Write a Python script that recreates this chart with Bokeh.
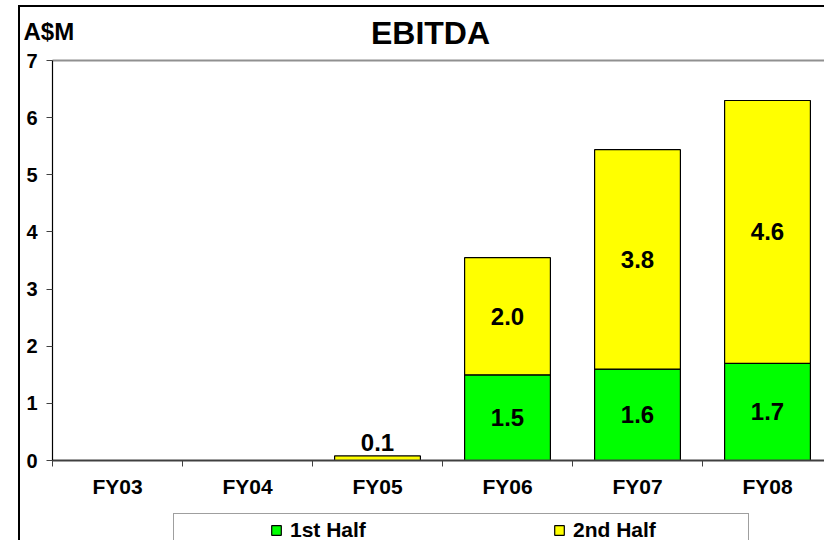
from bokeh.plotting import figure
from bokeh.layouts import column
from bokeh.models import (Range1d, FixedTicker, LinearAxis, Legend, LegendItem,
                          ColumnDataSource, Label)
from bokeh.embed import file_html
from bokeh.resources import INLINE
from bokeh.core.properties import value

categories = ["FY03", "FY04", "FY05", "FY06", "FY07", "FY08"]
first_half = [0, 0, 0, 1.5, 1.6, 1.7]
second_half = [0, 0, 0.08, 2.05, 3.84, 4.6]
y_ticks = [0, 1, 2, 3, 4, 5, 6, 7]
series_names = ["1st Half", "2nd Half"]
chart_title = "EBITDA"
unit_label = "A$M"

FONT = "Liberation Sans"
GREEN = "#00FF00"
YELLOW = "#FFFF00"

xs = list(range(len(categories)))
totals = [a + b for a, b in zip(first_half, second_half)]

src = ColumnDataSource(dict(x=xs, cat=categories, h1=first_half, h2=second_half, tot=totals))

# ---------------- main chart ----------------
p = figure(width=804, height=507, output_backend="svg", toolbar_location=None,
           x_range=Range1d(-0.5, -0.5 + 772 / 130), y_range=Range1d(0, 7),
           min_border_left=32, min_border_right=0, min_border_top=0, min_border_bottom=44,
           title_location=None)
p.margin = (-10, 0, 0, 0)

p.outline_line_color = None
p.xgrid.visible = False
p.ygrid.visible = False
p.background_fill_color = "white"
p.border_fill_alpha = 0

BAR_W = 0.66
bar_style = dict(line_color="black", line_width=1.2)
r1 = p.vbar(x="x", width=BAR_W, bottom=0, top="h1", source=src, fill_color=GREEN, **bar_style)
r2 = p.vbar(x="x", width=BAR_W, bottom="h1", top="tot", source=src, fill_color=YELLOW, **bar_style)

# value labels
in_x, in_y, in_t = [], [], []
out_x, out_y, out_t = [], [], []
for i in xs:
    a, b = first_half[i], second_half[i]
    if a > 0:
        in_x.append(i); in_y.append(a / 2); in_t.append(f"{a:.1f}")
    if b >= 0.5:
        in_x.append(i); in_y.append(a + b / 2); in_t.append(f"{b:.1f}")
    elif b > 0:
        out_x.append(i); out_y.append(a + b); out_t.append(f"{b:.1f}")

p.text(x=in_x, y=in_y, text=in_t, text_font=value(FONT), text_font_style="bold",
       text_font_size="24px", text_align="center", text_baseline="middle", text_color="black")
p.text(x=out_x, y=out_y, text=out_t, text_font=value(FONT), text_font_style="bold",
       text_font_size="24px", text_align="center", text_baseline="bottom", text_color="black",
       y_offset=-5)

# y axis
ya = p.yaxis[0]
ya.ticker = FixedTicker(ticks=y_ticks)
ya.major_label_text_font = FONT
ya.major_label_text_font_style = "bold"
ya.major_label_text_font_size = "20px"
ya.major_label_text_color = "black"
ya.major_label_standoff = 9
ya.major_tick_out = 6
ya.major_tick_in = 0
ya.major_tick_line_color = "#404040"
ya.minor_tick_line_color = None
ya.axis_line_color = "black"
ya.axis_line_width = 1.2

# x axis
xa = p.xaxis[0]
xa.ticker = FixedTicker(ticks=xs, minor_ticks=[i - 0.5 for i in range(len(categories) + 1)])
xa.major_label_overrides = {i: c for i, c in zip(xs, categories)}
xa.major_tick_line_color = None
xa.minor_tick_out = 6
xa.minor_tick_in = 0
xa.minor_tick_line_color = "#404040"
xa.axis_line_color = "#404040"
xa.axis_line_width = 2
xa.major_label_text_font = FONT
xa.major_label_text_font_style = "bold"
xa.major_label_text_font_size = "21px"
xa.major_label_text_color = "black"
xa.major_label_standoff = 8

# top frame line
top = LinearAxis(ticker=FixedTicker(ticks=[]), major_label_text_font_size="0px",
                 axis_line_color="#909090", axis_line_width=2,
                 major_tick_line_color=None, minor_tick_line_color=None)
p.add_layout(top, "above")

# header texts (placed in the top panel so they are not clipped by the frame)
unit = Label(x=-0.5, y=7, x_offset=-29, y_offset=29, text=unit_label,
             text_font=FONT, text_font_style="bold", text_font_size="24px",
             text_color="black", text_align="left", text_baseline="middle")
ttl = Label(x=2.5, y=7, x_offset=-12, y_offset=28, text=chart_title,
            text_font=FONT, text_font_style="bold", text_font_size="32px",
            text_color="black", text_align="center", text_baseline="middle")
p.add_layout(unit, "above")
p.add_layout(ttl, "above")

# ---------------- legend strip ----------------
p2 = figure(width=804, height=36, output_backend="svg", toolbar_location=None,
            x_range=Range1d(100, 101), y_range=Range1d(100, 101),
            x_axis_location=None, y_axis_location=None,
            min_border_left=0, min_border_right=0, min_border_top=0, min_border_bottom=0,
            title_location=None)
p2.outline_line_color = None
p2.xgrid.visible = False
p2.ygrid.visible = False
p2.border_fill_alpha = 0
p2.background_fill_alpha = 0

# legend proxies (same series, kept outside this strip's visible range)
g1 = p2.vbar(x="x", width=BAR_W, bottom=0, top="h1", source=src, fill_color=GREEN, **bar_style)
g2 = p2.vbar(x="x", width=BAR_W, bottom="h1", top="tot", source=src, fill_color=YELLOW, **bar_style)

legend = Legend(items=[LegendItem(label=series_names[0], renderers=[g1]),
                       LegendItem(label=series_names[1], renderers=[g2])],
                orientation="horizontal", location=(121, -7),
                padding=4, margin=0, spacing=92, label_width=171, label_standoff=8,
                glyph_width=12, glyph_height=12,
                label_text_font=FONT, label_text_font_style="bold",
                label_text_font_size="21px", label_text_color="black",
                title=" ", title_location="left", title_standoff=81,
                title_text_font_size="10px",
                border_line_color="#404040", border_line_width=1.5,
                background_fill_color="white", background_fill_alpha=1.0)
p2.add_layout(legend)

layout = column(p, p2, spacing=0)
layout.margin = (5, 0, 0, 18)
layout.styles = {"border-left": "2px solid black", "border-top": "2px solid black"}

open("out.html", "w").write(file_html(layout, INLINE))
